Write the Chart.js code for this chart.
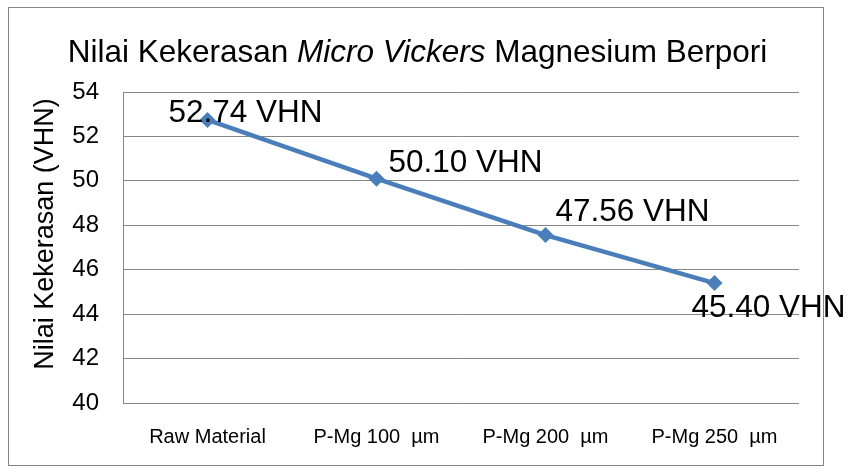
<!DOCTYPE html>
<html>
<head>
<meta charset="utf-8">
<script src="https://cdn.jsdelivr.net/npm/chart.js@4.4.0/dist/chart.umd.min.js"></script>
<style>
  html, body { margin: 0; padding: 0; background: #ffffff; }
  #wrap { width: 850px; height: 470px; }
</style>
</head>
<body>
<div id="wrap"><canvas id="Chart" width="850" height="470"></canvas></div>
<script>
// Sampel dan nilai kekerasan
var categories = ['Raw Material', 'P-Mg 100  µm', 'P-Mg 200  µm', 'P-Mg 250  µm'];
var hardness = [52.74, 50.10, 47.56, 45.40];
var yTicks = [40, 42, 44, 46, 48, 50, 52, 54];

var FONT = "'Liberation Sans', Arial, sans-serif";

// geser label nilai dari titiknya (dx, dy ke baseline)
var labelOffsets = [[-39, 2], [12, -7], [10, -14], [-23, 34]];

// bingkai, judul (sebagian miring), judul sumbu Y dan label nilai
var decorPlugin = {
    id: 'decor',
    beforeDraw: function (chart) {
        var ctx = chart.ctx;
        ctx.save();
        ctx.fillStyle = '#ffffff';
        ctx.fillRect(0, 0, chart.width, chart.height);
        ctx.restore();
    },
    afterDraw: function (chart) {
        var ctx = chart.ctx;
        ctx.save();

        ctx.strokeStyle = '#868686';
        ctx.lineWidth = 1;
        ctx.strokeRect(8.5, 7.5, 815, 458);

        // judul
        var parts = [
            {text: 'Nilai Kekerasan ', font: '31.5px ' + FONT},
            {text: 'Micro Vickers', font: 'italic 31.5px ' + FONT},
            {text: ' Magnesium Berpori', font: '31.5px ' + FONT}
        ];
        var total = 0;
        parts.forEach(function (p) {
            ctx.font = p.font;
            p.w = ctx.measureText(p.text).width;
            total += p.w;
        });
        var x = 417.5 - total / 2;
        ctx.fillStyle = '#000000';
        ctx.textBaseline = 'alphabetic';
        ctx.textAlign = 'left';
        parts.forEach(function (p) {
            ctx.font = p.font;
            ctx.fillText(p.text, x, 62);
            x += p.w;
        });

        // judul sumbu Y
        ctx.save();
        ctx.translate(53, 234);
        ctx.rotate(-Math.PI / 2);
        ctx.font = '27px ' + FONT;
        ctx.textAlign = 'center';
        ctx.fillText('Nilai Kekerasan (VHN)', 0, 0);
        ctx.restore();

        // label nilai
        var meta = chart.getDatasetMeta(0);
        ctx.font = '31.5px ' + FONT;
        ctx.textAlign = 'left';
        meta.data.forEach(function (pt, i) {
            var off = labelOffsets[i];
            var label = hardness[i].toFixed(2) + ' VHN';
            ctx.fillText(label, pt.x + off[0], pt.y + off[1]);
        });

        ctx.restore();
    }
};

var context = document.getElementById('Chart').getContext('2d');

var data = {
    labels: categories,
    datasets: [{
        label: 'Kekerasan',
        data: hardness,
        borderColor: '#4a7ebb',
        backgroundColor: '#4a7ebb',
        borderWidth: 4.5,
        tension: 0,
        pointStyle: 'rectRot',
        pointRadius: 8,
        pointHoverRadius: 8,
        pointBorderWidth: 0
    }]
};

var options = {
    responsive: false,
    animation: false,
    events: [],
    layout: {
        padding: {top: 92, right: 51, left: 0, bottom: 0}
    },
    scales: {
        x: {
            offset: true,
            grid: {display: false},
            border: {display: false},
            ticks: {
                color: '#000000',
                font: {family: FONT, size: 20},
                padding: 14,
                maxRotation: 0,
                autoSkip: false
            },
            afterFit: function (scale) { scale.height = 67; }
        },
        y: {
            min: 40,
            max: 54,
            afterBuildTicks: function (scale) {
                scale.ticks = yTicks.map(function (v) { return {value: v}; });
            },
            grid: {color: '#878787', lineWidth: 1, drawTicks: false},
            border: {display: true, color: '#878787', width: 1},
            ticks: {
                color: '#000000',
                font: {family: FONT, size: 24},
                padding: 24
            },
            afterFit: function (scale) { scale.width = 123; }
        }
    },
    plugins: {
        legend: {display: false},
        title: {display: false},
        tooltip: {enabled: false}
    },
    maintainAspectRatio: false
};

var myChart = new Chart(context, {
    type: 'line',
    data: data,
    options: options,
    plugins: [decorPlugin]
});
</script>
</body>
</html>
